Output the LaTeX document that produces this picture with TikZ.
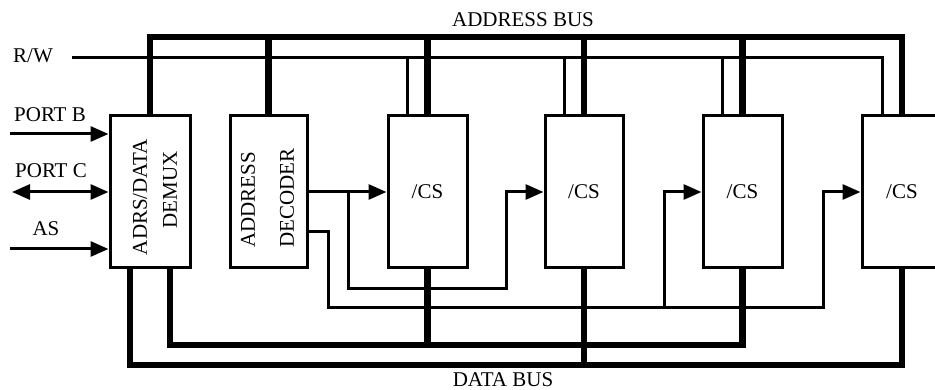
\documentclass[tikz,border=0pt]{standalone}
\usepackage{fontspec}
\setmainfont{Liberation Serif}
\usetikzlibrary{arrows.meta}
\begin{document}
\begin{tikzpicture}[x=1pt,y=-1pt,
  lbl/.style={font=\fontsize{21}{24}\selectfont, inner sep=0pt},
  box/.style={draw, line width=3pt, minimum height=152pt, inner sep=0pt, font=\fontsize{21}{24}\selectfont},
  bus/.style={line width=6.5pt},
  sig/.style={line width=3pt},
  >={Triangle[length=18pt,width=15pt]}
]
\useasboundingbox (0,0) rectangle (935,390);

% blocks
\node[box, minimum width=80pt] (demux) at (150,192) {};
\node[box, minimum width=77pt] (dec) at (268.5,192) {};
\node[box, minimum width=79pt] (cs1) at (427.5,192) {/CS};
\node[box, minimum width=78pt] (cs2) at (584,192) {/CS};
\node[box, minimum width=79pt] (cs3) at (742.5,192) {/CS};
\node[box, minimum width=80pt] (cs4) at (902,192) {/CS};

% rotated block labels
\node[lbl, rotate=90] (tadrs) at (140,197) {ADRS/DATA};
\node[lbl, rotate=90] (tdemux) at (170,190) {DEMUX};
\node[lbl, rotate=90] (taddr) at (248,200) {ADDRESS};
\node[lbl, rotate=90] (tdeco) at (287,198) {DECODER};

% other labels
\node[lbl] (labus) at (523,20) {ADDRESS BUS};
\node[lbl] (ldbus) at (503,380) {DATA BUS};
\node[lbl] (lrw) at (33,56) {R/W};
\node[lbl] (lpb) at (50,115) {PORT B};
\node[lbl] (lpc) at (51,171) {PORT C};
\node[lbl] (las) at (46,229) {AS};

% reference coordinates
\coordinate (abus) at (0,37);
\coordinate (rw) at (72,58);
\coordinate (dU) at (0,345);
\coordinate (dL) at (0,365);

% address bus
\draw[bus] (demux.north) -- (demux.north |- abus) -- (cs4.north |- abus) -- (cs4.north);
\draw[bus] (dec.north) -- (dec.north |- abus);
\draw[bus] (cs1.north) -- (cs1.north |- abus);
\draw[bus] (cs2.north) -- (cs2.north |- abus);
\draw[bus] (cs3.north) -- (cs3.north |- abus);

% R/W line
\draw[sig] (rw) -| ([xshift=-20pt]cs4.north);
\draw[sig] ([xshift=-20pt]cs1.north) -- ([xshift=-20pt]cs1.north |- rw);
\draw[sig] ([xshift=-20pt]cs2.north) -- ([xshift=-20pt]cs2.north |- rw);
\draw[sig] ([xshift=-20pt]cs3.north) -- ([xshift=-20pt]cs3.north |- rw);

% data bus
\draw[bus] ([xshift=20pt]demux.south) |- (cs3.south |- dU) -- (cs3.south);
\draw[bus] ([xshift=-20pt]demux.south) |- (cs4.south |- dL) -- (cs4.south);
\draw[bus] (cs1.south) -- (cs1.south |- dU);
\draw[bus] (cs2.south) -- (cs2.south |- dL);

% inputs
\coordinate (pb) at (10,134);
\coordinate (pc) at (12,192);
\coordinate (as) at (10,249);
\draw[sig,->] (pb) -- (demux.west |- pb);
\draw[sig,<->] (pc) -- (demux.west);
\draw[sig,->] (as) -- (demux.west |- as);

% decoder outputs
\coordinate (j1) at (348,192);
\coordinate (b1) at (506,289);
\coordinate (b2) at (328,308);
\coordinate (t4) at (823,192);
\coordinate (j3) at (664,308);
\draw[sig,->] (dec.east) -- (cs1.west);
\draw[sig,->] (j1) |- (b1) |- (cs2.west);
\draw[sig,->] ([yshift=-40pt]dec.east) -| (b2) -| (t4) -- (cs4.west);
\draw[sig,->] (j3) |- (cs3.west);
\end{tikzpicture}
\end{document}
